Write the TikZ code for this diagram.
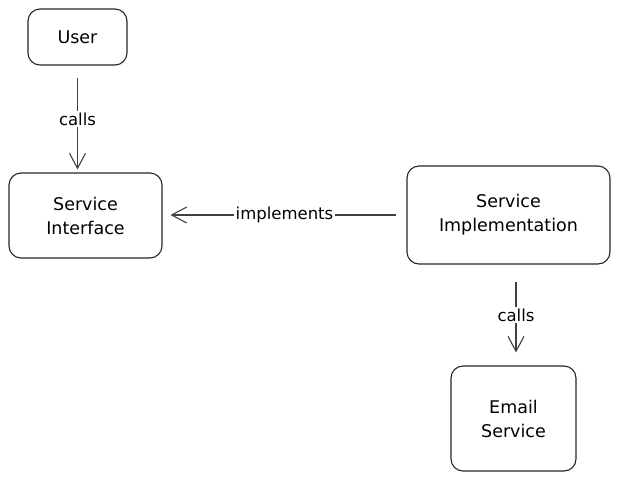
\documentclass[tikz,border=0pt]{standalone}
\usepackage{fontspec}
\setmainfont{DejaVu Sans}
\usetikzlibrary{arrows.meta}
\begin{document}
\begin{tikzpicture}[x=1pt,y=-1pt,
  box/.style={draw=black!85, line width=1.1pt, rounded corners=12pt, align=center,
    font=\fontsize{17.5}{24}\selectfont, inner sep=0pt},
  conn/.style={draw=black!75, line width=1.1pt, -{Straight Barb[length=15pt,width=16pt,line width=1.1pt]}},
  lbl/.style={fill=white, font=\fontsize{16.5}{18}\selectfont, inner sep=2pt}]
\useasboundingbox[fill=white] (0,0) rectangle (621,483);
\node[box, minimum width=99pt, minimum height=56pt] (user) at (77.5,37) {User};
\node[box, minimum width=153pt, minimum height=85pt] (si) at (85.5,215.5) {Service\\Interface};
\node[box, minimum width=203pt, minimum height=98pt] (impl) at (508.5,215) {Service\\Implementation};
\node[box, minimum width=125pt, minimum height=105pt] (email) at (513.5,418.5) {Email\\Service};
\draw[conn, shorten <=12pt, shorten >=3pt] (user.south) -- node[lbl]{calls} (user.south |- si.north);
\draw[conn, shorten <=10pt, shorten >=8pt] (impl.west) -- node[lbl, pos=0.5]{implements} (impl.west -| si.east);
\draw[conn, shorten <=17pt, shorten >=13pt] ([xshift=2.5pt]email.north |- impl.south) -- node[lbl]{calls} ([xshift=2.5pt]email.north);
\end{tikzpicture}
\end{document}
